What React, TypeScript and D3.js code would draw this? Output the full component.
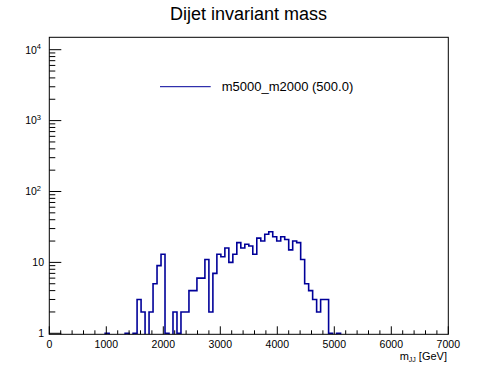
import { useRef, useEffect } from "react";
import * as d3 from "d3";

// histogram of m_JJ, 100 bins of 70 GeV from 0 to 7000
const binWidth = 70;
const xMin = 0;
const xMax = 7000;
const counts = [
  0, 0, 0, 0, 0, 0, 0, 0, 0, 0,
  0, 0, 0, 0, 1, 0, 0, 0, 0, 1,
  0, 1, 3, 2, 0, 2, 5, 9, 13, 1,
  0, 2, 1, 2, 2, 4, 4, 6, 6, 11,
  2, 7, 13, 12, 16, 10, 13, 19, 16, 18,
  17, 13, 22, 20, 25, 27, 23, 20, 23, 21,
  15, 20, 19, 11, 5, 4, 3, 2, 3, 3,
  1, 0, 1, 0, 0, 0, 0, 0, 0, 0,
  0, 0, 0, 0, 0, 0, 0, 0, 0, 0,
  0, 0, 0, 0, 0, 0, 0, 0, 0, 0,
];
const xMajorTicks = [0, 1000, 2000, 3000, 4000, 5000, 6000, 7000];
const yMajorTicks = [1, 10, 100, 1000, 10000];
const yTickLabels = ["1", "10", "10^2", "10^3", "10^4"];

const title = "Dijet invariant mass";
const legendLabel = "m5000_m2000 (500.0)";
const lineColor = "#000099";
const font = "'Liberation Sans', Arial, Helvetica, sans-serif";

export default function App() {
  const ref = useRef<SVGSVGElement>(null);

  useEffect(() => {
    if (!ref.current) return;
    const W = 498;
    const H = 374;
    const frame = { left: 49.3, right: 448.3, top: 37.3, bottom: 334.3 };

    const svg = d3.select(ref.current);
    svg.selectAll("*").remove();
    svg.attr("width", W).attr("height", H);

    svg.append("rect").attr("width", W).attr("height", H).attr("fill", "white");

    svg
      .append("defs")
      .append("clipPath")
      .attr("id", "frame-clip")
      .append("rect")
      .attr("x", frame.left)
      .attr("y", frame.top)
      .attr("width", frame.right - frame.left)
      .attr("height", frame.bottom - frame.top);

    const x = d3.scaleLinear().domain([xMin, xMax]).range([frame.left, frame.right]);
    const y = d3.scaleLog().domain([0.968, 14960]).range([frame.bottom, frame.top]);

    // title
    svg
      .append("text")
      .attr("x", 248.5)
      .attr("y", 19.5)
      .attr("text-anchor", "middle")
      .style("font-family", font)
      .style("font-size", "18px")
      .text(title);

    // histogram outline (empty bins drop below the frame and get clipped)
    const pts: [number, number][] = counts.map((c, i) => [xMin + i * binWidth, c]);
    pts.push([xMin + counts.length * binWidth, counts[counts.length - 1]]);
    const yc = (v: number) => (v <= y.domain()[0] ? frame.bottom + 2 : y(v));
    const line = d3
      .line<[number, number]>()
      .x((d) => x(d[0]))
      .y((d) => yc(d[1]))
      .curve(d3.curveStepAfter);

    svg
      .append("path")
      .datum(pts)
      .attr("clip-path", "url(#frame-clip)")
      .attr("fill", "none")
      .attr("stroke", lineColor)
      .attr("stroke-width", 1.6)
      .attr("d", line);

    // frame
    svg
      .append("rect")
      .attr("x", frame.left)
      .attr("y", frame.top)
      .attr("width", frame.right - frame.left)
      .attr("height", frame.bottom - frame.top)
      .attr("fill", "none")
      .attr("stroke", "black")
      .attr("stroke-width", 1);

    // x ticks
    const xt = svg.append("g").attr("stroke", "black").attr("stroke-width", 1);
    d3.range(xMin, xMax + 1, 200).forEach((v) => {
      const major = v % 1000 === 0;
      xt.append("line")
        .attr("x1", x(v))
        .attr("x2", x(v))
        .attr("y1", frame.bottom)
        .attr("y2", frame.bottom - (major ? 8 : 4));
    });
    svg
      .append("g")
      .selectAll("text")
      .data(xMajorTicks)
      .join("text")
      .attr("x", (d) => x(d))
      .attr("y", 347.5)
      .attr("text-anchor", "middle")
      .style("font-family", font)
      .style("font-size", "10.5px")
      .text((d) => d);

    // x title
    const xTitle = svg
      .append("text")
      .attr("x", 447)
      .attr("y", 359.5)
      .attr("text-anchor", "end")
      .style("font-family", font)
      .style("font-size", "11px");
    xTitle.append("tspan").text("m");
    xTitle.append("tspan").attr("dy", 2.5).style("font-size", "7px").text("JJ");
    xTitle.append("tspan").attr("dy", -2.5).text(" [GeV]");

    // y ticks
    const yt = svg.append("g").attr("stroke", "black").attr("stroke-width", 1);
    yMajorTicks.forEach((dec) => {
      for (let k = 1; k <= 9; k++) {
        const v = dec * k;
        if (v > y.domain()[1]) continue;
        yt.append("line")
          .attr("x1", frame.left)
          .attr("x2", frame.left + (k === 1 ? 12 : 6))
          .attr("y1", y(v))
          .attr("y2", y(v));
      }
    });
    yMajorTicks.forEach((v, i) => {
      const lbl = yTickLabels[i];
      const t = svg
        .append("text")
        .attr("y", y(v) + 3.8)
        .attr("text-anchor", "end")
        .style("font-family", font)
        .style("font-size", "10.5px");
      if (lbl.includes("^")) {
        const [base, exp] = lbl.split("^");
        t.attr("x", 41);
        t.append("tspan").text(base);
        t.append("tspan").attr("dy", -4.5).style("font-size", "7.5px").text(exp);
      } else {
        t.attr("x", 44).text(lbl);
      }
    });

    // legend
    svg
      .append("line")
      .attr("x1", 160)
      .attr("x2", 210.7)
      .attr("y1", 86.7)
      .attr("y2", 86.7)
      .attr("stroke", lineColor)
      .attr("stroke-width", 1);
    svg
      .append("text")
      .attr("x", 221.7)
      .attr("y", 91)
      .style("font-family", font)
      .style("font-size", "13px")
      .text(legendLabel);
  }, []);

  return <svg ref={ref} style={{ position: "absolute", left: 0, top: 0, display: "block" }} />;
}
